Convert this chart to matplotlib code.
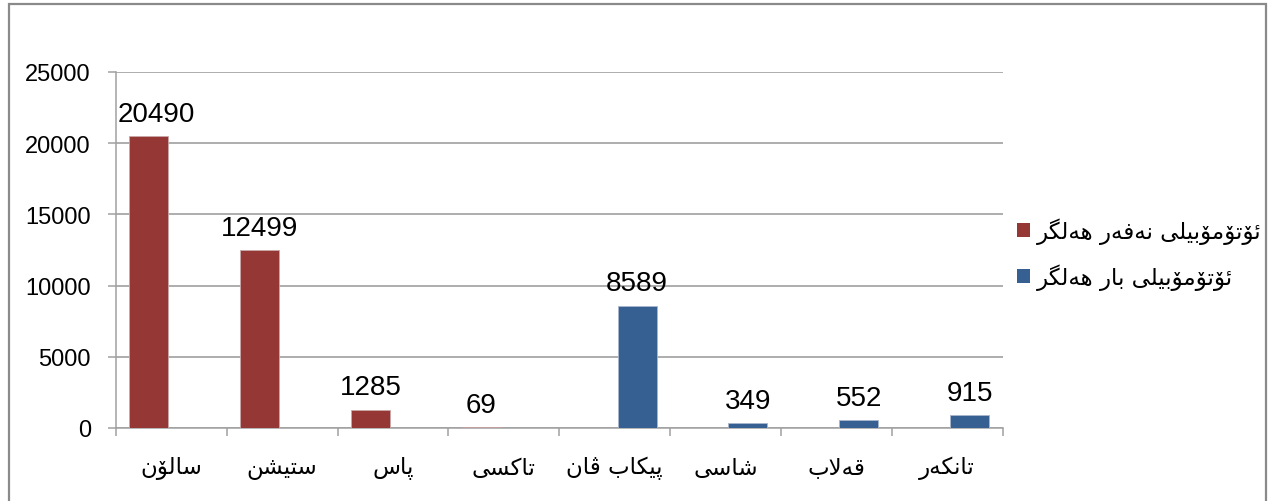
import numpy as np
import matplotlib
matplotlib.use("Agg")
import matplotlib.pyplot as plt
from matplotlib import font_manager, ft2font
from matplotlib.patches import Patch, Rectangle

# ── Data ──────────────────────────────────────────────────────────────────────
categories = ["سالۆن", "ستیشن", "پاس", "تاکسی", "پیکاب ڤان", "شاسی", "قەلاب", "تانکەر"]
series_names = ["ئۆتۆمۆبێلی نەفەر هەڵگر", "ئۆتۆمۆبێلی بار هەڵگر"]
passenger = [20490, 12499, 1285, 69, np.nan, np.nan, np.nan, np.nan]
cargo = [np.nan, np.nan, np.nan, np.nan, 8589, 349, 552, 915]
yticks = [0, 5000, 10000, 15000, 20000, 25000]

RED = "#953735"
BLUE = "#376092"
GREY = "#a0a0a0"

# ── Minimal Arabic-script shaping (matplotlib draws glyphs one by one) ────────
_font = ft2font.FT2Font(font_manager.findfont("DejaVu Sans"))

def has(ch):
    return _font.get_char_index(ord(ch)) != 0

def pick(forms, fallback):
    return tuple(f if has(f) else g for f, g in zip(forms, fallback))

LAM = ("\uFEDD", "\uFEDE", "\uFEDF", "\uFEE0")
YEH = pick(("\uFBFC", "\uFBFD", "\uFBFE", "\uFBFF"), ("\uFEEF", "\uFEF0", "\uFEF3", "\uFEF4"))
KAF = ("\uFED9", "\uFEDA", "\uFEDB", "\uFEDC")
FORMS = {
    "ا": ("\uFE8D", "\uFE8E"),
    "ئ": ("\uFE89", "\uFE8A", "\uFE8B", "\uFE8C"),
    "ب": ("\uFE8F", "\uFE90", "\uFE91", "\uFE92"),
    "پ": pick(("\uFB56", "\uFB57", "\uFB58", "\uFB59"), ("\uFE8F", "\uFE90", "\uFE91", "\uFE92")),
    "ت": ("\uFE95", "\uFE96", "\uFE97", "\uFE98"),
    "ر": ("\uFEAD", "\uFEAE"),
    "س": ("\uFEB1", "\uFEB2", "\uFEB3", "\uFEB4"),
    "ش": ("\uFEB5", "\uFEB6", "\uFEB7", "\uFEB8"),
    "ف": ("\uFED1", "\uFED2", "\uFED3", "\uFED4"),
    "ڤ": pick(("\uFB6A", "\uFB6B", "\uFB6C", "\uFB6D"), ("\uFED1", "\uFED2", "\uFED3", "\uFED4")),
    "ق": ("\uFED5", "\uFED6", "\uFED7", "\uFED8"),
    "ک": pick(("\uFB8E", "\uFB8F", "\uFB90", "\uFB91"), KAF),
    "گ": pick(("\uFB92", "\uFB93", "\uFB94", "\uFB95"), KAF),
    "ل": LAM,
    "ڵ": LAM,
    "م": ("\uFEE1", "\uFEE2", "\uFEE3", "\uFEE4"),
    "ن": ("\uFEE5", "\uFEE6", "\uFEE7", "\uFEE8"),
    "ه": ("\uFEE9", "\uFEEA", "\uFEEB", "\uFEEC"),
    "ە": ("\uFEE9", "\uFEEA"),
    "و": ("\uFEED", "\uFEEE"),
    "ۆ": pick(("\uFBD9", "\uFBDA"), ("\uFEED", "\uFEEE")),
    "ی": YEH,
    "ێ": YEH,
}
LAMALEF = ("\uFEFB", "\uFEFC")

def shape(text):
    chars = list(text)
    out = []
    i = 0
    dual = lambda c: c in FORMS and len(FORMS[c]) == 4
    while i < len(chars):
        c = chars[i]
        if c not in FORMS:
            out.append(c)
            i += 1
            continue
        link_prev = i > 0 and dual(chars[i - 1])
        if c in "لڵ" and i + 1 < len(chars) and chars[i + 1] == "ا":
            out.append(LAMALEF[1 if link_prev else 0])
            i += 2
            continue
        link_next = dual(c) and i + 1 < len(chars) and chars[i + 1] in FORMS
        f = FORMS[c]
        if link_prev and link_next:
            out.append(f[3])
        elif link_prev:
            out.append(f[1])
        elif link_next:
            out.append(f[2])
        else:
            out.append(f[0])
        i += 1
    return "".join(reversed(out))

# ── Plot ──────────────────────────────────────────────────────────────────────
W, H = 1271, 502
fig = plt.figure(figsize=(W / 100, H / 100), dpi=100)
ax = fig.add_axes([116 / W, 1 - 429 / H, 886.5 / W, 356 / H])

x = np.arange(len(categories))
width, off = 0.352, 0.203
ax.bar(x - off, passenger, width, color=RED, edgecolor="#c9a9a8", linewidth=0.6, zorder=3)
ax.bar(x + off, cargo, width, color=BLUE, edgecolor="#a9b7cc", linewidth=0.6, zorder=3)

num_font = dict(family="Liberation Sans", fontsize=20, color="black")
for xs, vals in ((x - off, passenger), (x + off, cargo)):
    for xi, v in zip(xs, vals):
        if np.isnan(v):
            continue
        left = xi - 0.5 * width < -0.25
        ax.annotate(f"{int(v)}", (-0.5 if left else xi, v), xytext=(1.5 if left else 0, 11),
                    textcoords="offset points", ha="left" if left else "center",
                    va="baseline", **num_font)

ax.set_xlim(-0.5, len(categories) - 0.5)
ax.set_ylim(0, 25000)
ax.set_yticks(yticks)
ax.set_yticklabels([str(t) for t in yticks], family="Liberation Sans", fontsize=17)
ax.tick_params(axis="y", length=6, width=1.1, color=GREY, pad=12)

ax.set_xticks(x)
ax.set_xticklabels([shape(c) for c in categories], family="DejaVu Sans", fontsize=16.5)
ax.set_xticks(np.arange(len(categories) + 1) - 0.5, minor=True)
ax.tick_params(axis="x", which="major", length=0, pad=20)
ax.tick_params(axis="x", which="minor", length=6, width=1.1, color=GREY)

ax.grid(axis="y", color=GREY, linewidth=1.2, zorder=0)
ax.set_axisbelow(True)
for s in ("top", "right"):
    ax.spines[s].set_visible(False)
for s in ("left", "bottom"):
    ax.spines[s].set_color(GREY)
    ax.spines[s].set_linewidth(1.1)

handles = [Patch(facecolor=RED), Patch(facecolor=BLUE)]
fig.legend(handles, [shape(n) for n in series_names], loc="center left",
           bbox_to_anchor=(1017 / W, 1 - 255 / H), frameon=False, borderpad=0, borderaxespad=0,
           prop=dict(family="DejaVu Sans", size=16.5), handlelength=0.55, handleheight=0.55,
           handletextpad=0.3, labelspacing=0.85)

# outer chart frame
fig.patches.append(Rectangle((9 / W, -0.05), 1257 / W, 1.05 - 5 / H, transform=fig.transFigure,
                             fill=False, edgecolor="#8a8a8a", linewidth=1.6))

fig.savefig("out.png", dpi=100)
